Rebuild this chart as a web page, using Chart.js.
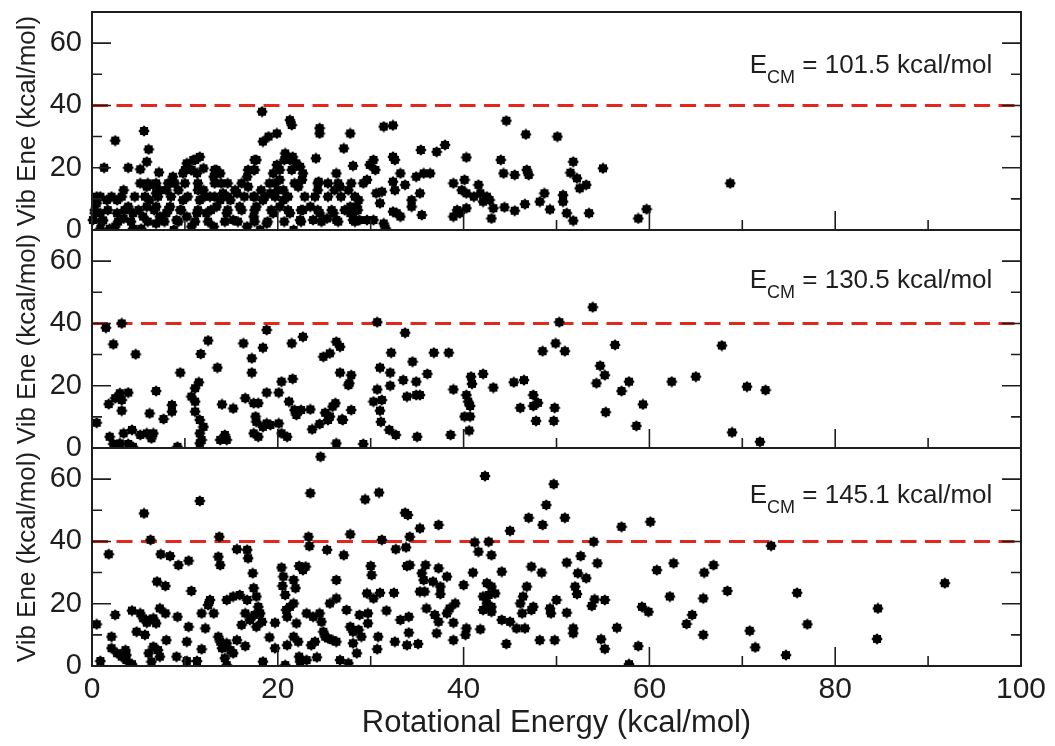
<!DOCTYPE html>
<html>
<head>
<meta charset="utf-8">
<title>Vibrational vs rotational energy</title>
<script src="https://cdn.jsdelivr.net/npm/chart.js@4/dist/chart.umd.min.js"></script>
<style>
  html, body { margin: 0; padding: 0; background: #fff; }
  #wrap { position: relative; width: 1055px; height: 746px; overflow: hidden; background: #fff; }
  #wrap canvas { position: absolute; left: 0; }
</style>
</head>
<body>
<div id="wrap">
  <canvas id="panel0" width="1055" height="278" style="top:-18px"></canvas>
  <canvas id="panel1" width="1055" height="278" style="top:200px"></canvas>
  <canvas id="panel2" width="1055" height="328" style="top:418px"></canvas>
</div>
<script>
// ---- data (rotational energy, vibrational energy) in kcal/mol ----
const ENERGIES = ['101.5', '130.5', '145.1'];
const THRESHOLD = 40;
const X_TICKS = [0, 20, 40, 60, 80, 100];
const Y_TICKS = [0, 20, 40, 60];

const POINTS_101 = [
  [0.1,3.2],[0.3,5.4],[0.9,5.4],[1.2,3.1],[0.9,0.4],[1.9,0.4],[2.5,1.1],[2.7,5.4],[3.4,3.7],[3.9,7.5],
  [4.4,5.4],[4.4,0.4],[5.3,0.4],[5.5,4.3],[5.9,7.5],[6.2,9.6],[6.9,7.5],[7.3,4.3],[6.9,2.1],[8.0,5.4],
  [8.4,7.5],[8.8,0.0],[9.1,3.2],[9.5,6.4],[9.8,9.6],[10.2,4.3],[10.7,1.1],[11.3,5.4],[11.6,9.6],[12.0,12.8],
  [12.7,10.7],[12.3,5.4],[13.1,1.1],[13.4,7.5],[13.8,9.6],[14.1,11.8],[14.5,5.4],[15.2,3.2],[14.9,9.6],[15.6,11.8],
  [15.9,7.5],[16.7,1.1],[17.4,4.3],[17.7,7.5],[18.1,0.0],[18.8,2.1],[18.4,9.6],[19.2,11.8],[19.5,5.4],[20.2,7.5],
  [20.6,9.6],[21.3,5.4],[21.7,0.0],[22.4,3.2],[22.7,6.4],[23.5,7.5],[23.8,3.2],[24.5,5.4],[25.3,3.7],[26.0,5.4],
  [26.3,3.2],[27.8,7.5],[28.1,5.4],[28.7,9.6],
  [6.0,15.0],[6.9,15.0],[8.2,15.0],[8.9,15.0],[10.0,15.0],[11.4,15.0],[13.2,15.0],[13.9,15.0],[14.6,15.0],[16.1,15.0],
  [19.1,15.0],[19.7,15.0],[21.8,15.0],[24.3,15.0],[25.4,15.0],[26.5,15.0],[27.9,15.0],
  [0.5,10.7],[2.1,10.7],[3.2,10.7],[4.6,10.7],[5.7,10.7],[7.1,10.7],[8.5,10.7],[10.3,10.7],[12.1,10.7],[13.2,10.7],
  [14.6,10.7],[16.4,10.7],[17.5,10.7],[18.6,10.7],[19.7,10.7],[21.1,10.7],[22.9,10.7],[24.0,10.7],[25.4,10.7],[26.8,10.7],
  [28.3,10.7],
  [0.3,6.4],[1.7,6.4],[3.5,6.4],[5.0,6.4],[6.7,6.4],[8.2,6.4],[9.6,6.4],[11.4,6.4],[12.8,6.4],[14.6,6.4],
  [16.1,6.4],[17.5,6.4],[19.3,6.4],[21.1,6.4],[22.5,6.4],[24.3,6.4],[25.8,6.4],[27.2,6.4],[28.6,6.4],
  [1.0,2.7],[2.8,2.7],[4.2,2.7],[6.0,2.7],[7.8,2.7],[9.3,2.7],[11.1,2.7],[12.5,2.7],[14.3,2.7],[15.7,2.7],
  [17.5,2.7],[18.9,2.7],[20.7,2.7],[22.5,2.7],[24.7,2.7],[26.5,2.7],[28.3,2.7],
  [9.3,12.8],[11.4,12.8],[15.4,12.8],[18.2,12.8],[20.0,12.8],[24.3,12.8],[26.1,12.8],
  [10.0,19.3],[10.7,19.3],[13.2,19.3],[16.8,19.3],[17.5,19.3],[20.2,19.3],[21.5,19.3],[11.1,22.5],[17.5,22.5],[20.7,22.5],
  [18.3,38.0],[5.6,31.8],[6.1,25.9],[5.9,21.9],[3.9,20.0],[5.2,19.5],[7.2,18.5],[1.3,20.0],[2.5,28.7],[18.4,28.4],
  [19.0,30.0],[19.9,31.0],[21.3,35.3],[21.5,33.7],[24.5,32.7],[24.5,31.0],[27.8,31.0],[27.1,26.2],[28.1,20.6],[24.1,23.0],
  [24.4,15.5],[26.3,18.2],[27.6,12.8],[20.8,24.6],[21.3,22.5],[21.6,23.5],[22.0,21.4],[22.4,20.3],[22.7,18.2],[22.6,16.1],
  [22.2,13.9],[19.9,20.9],[19.5,18.2],[20.2,16.1],[20.6,12.8],[17.7,22.5],[17.4,19.3],[16.7,17.1],[16.8,13.9],[17.4,10.7],
  [10.2,21.4],[10.9,22.5],[11.6,23.5],[10.7,19.3],[9.8,18.2],[11.3,18.2],[12.0,19.8],[13.4,19.3],[13.8,18.2],[13.1,17.1],
  [8.7,17.1],[8.4,15.0],[8.0,12.8],[5.2,15.0],[5.9,13.9],[6.6,14.5],[7.3,12.8],[6.9,11.8],[3.4,12.8],[2.7,9.6],
  [1.6,9.6],[0.9,10.7],[0.5,8.6],
  [31.4,33.2],[32.4,33.6],[35.4,25.7],[37.1,25.1],[38.0,27.3],[44.6,35.1],[46.7,30.7],[50.1,30.0],[40.3,23.3],[44.0,22.5],
  [44.3,18.2],[45.5,17.7],[46.8,19.3],[47.0,17.7],[51.8,21.9],[51.5,18.4],[52.2,16.6],[52.5,13.4],[53.2,14.5],[55.0,19.8],
  [48.7,11.8],[48.2,9.1],[49.3,6.6],[50.7,11.2],[50.7,9.1],[51.1,5.4],[51.8,3.0],[53.5,5.4],[58.8,3.7],[59.7,6.7],
  [46.6,8.3],[45.5,6.2],[44.4,7.3],[42.8,9.6],[43.2,7.0],[43.0,3.7],[42.5,10.7],[42.1,9.1],[41.6,14.5],[41.8,11.8],
  [41.1,10.7],[40.3,11.8],[40.1,16.1],[40.3,7.0],[39.8,12.8],[38.9,15.0],[39.3,6.4],[38.9,4.3],[39.6,5.4],[36.4,18.2],
  [35.7,18.2],[34.9,17.1],[35.3,11.8],[34.4,9.6],[34.4,7.5],[35.5,4.8],[33.2,18.2],[33.7,14.5],[32.6,12.8],[32.4,15.5],
  [32.6,22.5],[32.4,23.5],[30.3,22.5],[29.9,20.9],[30.5,19.3],[29.6,16.1],[29.2,15.0],[30.6,11.8],[31.2,12.3],[31.0,8.6],
  [26.7,13.9],[28.5,7.5],[27.8,5.4],[28.1,3.2],[28.8,3.2],[29.6,3.2],[30.3,3.2],[31.4,2.1],[31.6,0.5],[32.8,5.4],
  [33.2,4.3],[32.4,5.9],[68.7,15.0]
];

const POINTS_130 = [
  [1.5,38.6],[3.2,40.0],[2.3,33.3],[4.7,30.1],[0.5,8.1],[1.8,14.1],[2.5,16.0],[3.0,17.6],[3.2,15.4],[3.9,17.8],
  [3.2,12.0],[1.9,3.6],[2.3,1.3],[3.0,1.5],[3.4,4.7],[3.9,1.3],[4.3,5.8],[4.4,0.4],[5.2,4.2],[5.9,4.7],
  [6.4,3.1],[6.6,4.7],[6.2,11.1],[6.9,18.3],[7.7,9.3],[8.6,13.8],[8.6,11.7],[9.5,24.2],[9.2,0.4],[10.7,16.5],
  [11.1,19.2],[11.5,21.1],[11.1,14.9],[11.1,11.7],[11.6,9.0],[12.0,6.8],[11.6,4.7],[11.8,2.6],[11.6,1.5],[11.7,30.2],
  [12.5,34.5],[13.5,25.8],[14.0,14.0],[13.8,2.6],[14.5,2.6],[14.3,4.2],[15.2,12.7],[16.3,33.6],[16.5,16.0],[17.2,28.8],
  [17.2,24.2],[17.4,14.4],[17.9,14.4],[17.6,10.1],[17.7,8.4],[17.4,4.7],[17.9,3.6],[18.4,32.2],[18.8,37.9],[18.8,17.8],
  [18.4,6.8],[18.8,7.9],[19.2,7.4],[20.1,7.9],[20.1,17.8],[20.4,21.3],[20.4,4.7],[21.0,3.6],[21.2,14.9],[21.5,33.6],
  [21.6,22.2],[21.8,12.2],[22.0,10.6],[22.5,12.2],[22.7,35.7],[23.5,12.4],[23.7,6.0],[24.5,7.7],[24.9,29.3],[25.6,30.4],
  [26.3,34.1],[26.7,32.5],[25.1,11.3],[25.6,10.1],[25.9,13.3],[25.4,9.0],[26.9,9.2],[26.2,14.4],[26.3,1.5],[26.7,24.2],
  [27.7,20.8],[27.9,23.4],[27.9,12.2],[27.6,20.2],[27.0,9.0],
  [29.2,1.3],[30.7,40.4],[33.7,37.0],[32.2,30.6],[31.0,25.8],[32.1,24.2],[30.7,18.8],[32.1,20.0],[30.3,14.9],[31.2,15.4],
  [31.0,12.0],[31.1,8.4],[32.0,5.8],[32.7,4.2],[34.5,27.7],[33.5,21.8],[34.9,21.3],[33.9,16.5],[34.9,17.0],[35.3,17.0],
  [36.1,23.8],[35.0,3.6],[36.8,30.6],[38.4,30.6],[38.9,18.8],[38.6,4.2],[40.8,22.9],[40.9,20.6],[40.3,17.0],[40.5,14.9],
  [40.7,13.5],[40.1,10.1],[40.7,10.1],[40.6,5.6],[42.1,23.8],[43.2,19.4],[45.4,21.1],[46.5,21.8],[46.1,12.9],[47.5,17.0],
  [47.5,13.5],[48.0,14.5],[47.8,8.7],[49.7,8.7],[49.8,12.9],[48.5,31.1],[49.9,33.6],[50.9,31.1],[50.3,40.4],[53.9,45.2],
  [54.7,26.4],[55.2,23.4],[54.3,20.8],[56.3,33.1],[57.8,21.3],[57.0,18.3],[59.3,14.0],[55.3,11.5],[58.6,7.1],[62.4,21.3],
  [65.0,22.9],[67.8,32.9],[70.5,19.7],[72.5,18.6],[68.9,5.0],[71.9,2.0]
];

const POINTS_145 = [
  [24.6,67.2],[23.5,55.5],[11.6,53.0],[5.6,49.0],[6.3,40.5],[1.8,35.9],[0.5,13.4],[0.9,1.6],[2.5,16.4],[2.1,9.4],
  [2.1,5.7],[2.7,4.1],[3.2,3.0],[3.7,1.9],[4.3,0.6],[3.6,5.1],[3.7,3.5],
  [4.3,17.8],[5.2,16.9],[5.5,15.3],[4.8,11.0],[5.9,13.9],[6.2,14.8],[6.6,15.3],[6.9,13.7],[7.3,18.5],[7.9,16.9],
  [5.7,10.0],[6.1,4.1],[6.4,1.4],[6.6,6.2],[7.1,5.1],[7.3,3.0],[8.0,8.3],
  [7.0,27.1],[7.9,25.7],[7.4,35.9],[8.4,35.3],[9.3,32.4],[10.4,33.8],
  [9.2,15.8],[9.1,3.0],[10.2,7.8],[10.4,12.6],[10.7,24.1],[10.2,1.6],[11.3,1.6],
  [11.8,16.9],[11.8,5.4],[12.2,12.1],[12.5,19.6],[12.7,21.2],[13.1,16.9],[13.7,41.5],[13.6,35.1],[13.8,32.4],
  [13.6,9.4],[13.8,7.8],[14.0,5.7],[14.5,7.3],[14.9,5.1],[15.2,4.1],[14.3,2.5],[14.5,0.3],[15.6,8.3],[16.5,6.4],
  [14.5,21.2],[15.2,22.3],[15.9,22.8],[16.1,13.2],[16.5,16.9],[16.7,21.2],[17.0,14.8],[15.6,37.5],[16.7,37.3],[16.8,34.6],
  [17.3,29.8],[17.4,25.0],[17.7,22.3],[17.9,19.0],[18.1,16.9],[18.3,14.2],[17.7,12.6],[17.5,16.4],[18.4,1.4],[19.1,9.2],
  [19.7,13.9],[19.7,5.7],[20.4,31.6],[20.6,28.7],[20.5,25.7],[20.8,22.8],[20.9,18.0],[21.0,15.8],[21.3,19.0],[21.7,20.1],
  [21.0,6.7],[20.8,0.3],[21.7,27.6],[21.9,25.0],[22.3,32.1],[22.7,30.8],[23.0,31.9],[22.0,13.7],[22.2,7.8],[21.7,9.4],
  [22.3,3.0],[22.4,1.4],[23.1,1.9],[24.2,2.8],[23.1,16.9],[23.8,15.8],[23.6,6.7],[24.0,7.8],[24.5,16.9],[24.7,14.2],
  [24.9,11.0],[25.1,9.4],[25.4,8.9],[25.6,20.1],[26.3,21.7],[25.9,8.3],[26.3,7.8],[23.3,41.5],[23.4,38.5],[25.3,37.3],
  [26.3,27.6],[27.1,35.6],[27.8,42.3],[26.7,1.9],[27.6,0.9],[27.4,18.0],[27.8,12.6],[28.1,7.3],[28.5,4.1],[28.1,11.0],
  [29.4,53.5],[30.9,55.7],[33.7,49.2],[34.0,48.5],[35.3,44.2],[37.3,45.3],[31.2,40.5],[32.7,37.5],[33.8,38.1],[34.2,41.5],
  [42.3,61.0],[41.2,39.7],[41.6,36.7],[42.7,39.9],[43.0,35.6],[45.0,43.4],[47.0,47.6],[48.5,45.3],[48.9,51.7],[49.7,58.4],
  [50.9,47.6],[54.0,39.9],[57.0,44.7],[60.1,46.3],
  [30.0,32.1],[30.1,29.2],[29.6,23.3],[30.3,21.7],[31.0,23.5],[32.5,23.5],[31.7,17.8],[33.2,14.8],[34.1,15.8],[34.1,10.7],
  [33.9,6.7],[35.1,7.1],[32.6,7.8],[30.8,9.4],[30.7,5.4],[28.8,16.4],[29.7,16.9],[29.0,9.4],[28.7,11.6],[29.7,13.7],
  [33.9,32.1],[34.2,32.4],[35.5,29.8],[35.9,32.4],[35.7,27.6],[35.3,23.9],[35.8,23.9],[37.3,31.4],[36.7,27.1],[38.2,28.7],
  [37.5,25.5],[37.5,23.1],[36.0,18.5],[36.9,16.4],[37.3,14.2],[37.1,10.5],[38.2,16.9],[38.5,18.5],[39.1,20.1],[38.9,13.9],
  [38.9,8.3],[40.0,26.0],[40.3,12.1],[40.2,10.0],[41.8,11.8],
  [41.0,30.0],[42.5,26.6],[43.0,25.5],[42.1,22.3],[42.7,22.8],[43.4,23.3],[42.5,20.1],[43.0,19.0],[42.1,18.0],[43.0,17.4],
  [44.1,30.3],[44.1,14.8],[44.6,7.1],[45.0,14.2],[45.7,12.1],[46.1,20.1],[46.4,22.3],[46.8,25.5],[46.3,16.9],[46.6,12.1],
  [47.3,31.9],[47.3,18.0],[47.5,19.0],[48.4,30.0],[49.3,18.5],[49.4,16.9],[50.0,21.2],[49.8,8.3],[48.2,8.3],
  [51.1,33.2],[52.6,35.3],[52.3,29.8],[53.2,28.2],[52.0,25.5],[52.2,23.1],[51.1,17.1],[51.8,12.1],[51.8,10.5],[53.8,19.3],
  [54.1,21.4],[55.2,21.2],[54.4,33.0],[54.8,8.6],[55.2,5.5],[56.5,12.3],[58.8,6.4],[57.8,0.6],
  [59.2,19.0],[59.9,17.4],[60.8,30.8],[62.6,33.0],[62.2,22.3],[64.0,13.5],[64.6,16.4],
  [65.8,10.0],[65.8,21.7],[65.9,30.0],[66.9,32.4],[68.4,24.1],[70.8,11.3],[71.4,6.0],[73.1,38.6],[74.7,3.5],[75.9,23.5],
  [77.0,13.4],[84.6,18.5],[84.5,8.7],[91.8,26.6]
];

const PANEL_POINTS = [POINTS_101, POINTS_130, POINTS_145];

// ---- look ----
const INK = '#1e1e1e';
const DASH_RED = '#e5261c';
const FONT = '"Liberation Sans", Arial, Helvetica, sans-serif';
const LABEL_Y = [50.3, 51.5, 52.4];   // annotation baseline, in panel units

/**
 * Filled 8-lobed marker, like the grace "star" symbol
 */
const marker = (() => {
  const c = document.createElement('canvas');
  c.width = c.height = 12;
  const g = c.getContext('2d');
  g.fillStyle = '#000';
  g.beginPath();
  for (let i = 0; i < 16; i++) {
    const a = i * Math.PI / 8;
    const r = i % 2 === 0 ? 5.7 : 4.4;
    g.lineTo(6 + r * Math.cos(a), 6 + r * Math.sin(a));
  }
  g.closePath();
  g.fill();
  return c;
})();

/**
 * Frame, inward ticks, y title and the E_CM label of one panel
 */
const panelDecor = {
  id: 'panelDecor',
  afterDraw(chart, args, opts) {
    const { ctx, chartArea: a, scales: { x, y } } = chart;
    ctx.save();
    ctx.strokeStyle = INK;
    ctx.lineWidth = 1.6;
    ctx.beginPath();
    for (let v = 10; v < 100; v += 10) {
      const px = x.getPixelForValue(v);
      const len = v % 20 === 0 ? 19 : 10;
      ctx.moveTo(px, a.bottom);
      ctx.lineTo(px, a.bottom - len);
    }
    for (let v = 10; v < 70; v += 10) {
      const py = y.getPixelForValue(v);
      const len = v % 20 === 0 ? 19 : 10;
      ctx.moveTo(a.left, py);
      ctx.lineTo(a.left + len, py);
      ctx.moveTo(a.right, py);
      ctx.lineTo(a.right - len, py);
    }
    ctx.stroke();
    ctx.lineWidth = 2;
    ctx.strokeRect(a.left, a.top, a.right - a.left, a.bottom - a.top);

    // rotated y title
    ctx.fillStyle = INK;
    ctx.save();
    ctx.translate(35, (a.top + a.bottom) / 2);
    ctx.rotate(-Math.PI / 2);
    ctx.font = '26px ' + FONT;
    ctx.textAlign = 'center';
    ctx.textBaseline = 'alphabetic';
    ctx.fillText('Vib Ene (kcal/mol)', 0, 0);
    ctx.restore();

    // E_CM label
    const lx = x.getPixelForValue(70.8);
    const ly = y.getPixelForValue(opts.labelY);
    ctx.textAlign = 'left';
    ctx.textBaseline = 'alphabetic';
    ctx.font = '26px ' + FONT;
    ctx.fillText('E', lx, ly);
    const wE = ctx.measureText('E').width;
    ctx.font = '18px ' + FONT;
    ctx.fillText('CM', lx + wE, ly + 10);
    const wCM = ctx.measureText('CM').width;
    ctx.font = '26px ' + FONT;
    ctx.fillText(' = ' + opts.energy + ' kcal/mol', lx + wE + wCM, ly);
    ctx.restore();
  }
};

/**
 * Build one of the three stacked panels
 */
function makePanel(index) {
  const isBottom = index === PANEL_POINTS.length - 1;
  const canvas = document.getElementById('panel' + index);
  const points = PANEL_POINTS[index].map(p => ({ x: p[0], y: p[1] }));

  new Chart(canvas, {
    type: 'scatter',
    data: {
      datasets: [{
        data: points,
        pointStyle: marker,
        pointRadius: 5,
        clip: { left: 6, right: 6, top: 6, bottom: 0 }
      }, {
        type: 'line',
        data: [{ x: 0, y: THRESHOLD }, { x: 100, y: THRESHOLD }],
        borderColor: DASH_RED,
        borderWidth: 3,
        borderDash: [16, 8.5],
        pointRadius: 0,
        fill: false
      }]
    },
    plugins: [panelDecor],
    options: {
      responsive: false,
      animation: false,
      devicePixelRatio: 1,
      events: [],
      layout: { padding: { top: 30, bottom: isBottom ? 0 : 30, left: 0, right: 34 } },
      plugins: {
        legend: { display: false },
        tooltip: { enabled: false },
        panelDecor: { energy: ENERGIES[index], labelY: LABEL_Y[index] }
      },
      scales: {
        x: {
          type: 'linear',
          display: isBottom,
          min: 0,
          max: 100,
          afterBuildTicks: scale => { scale.ticks = X_TICKS.map(v => ({ value: v })); },
          afterFit: scale => { if (isBottom) scale.height = 80; },
          grid: { display: false, drawTicks: false },
          border: { display: false },
          ticks: { color: INK, font: { size: 30, family: FONT }, padding: 6, maxRotation: 0 },
          title: {
            display: true,
            text: 'Rotational Energy (kcal/mol)',
            color: INK,
            font: { size: 31, family: FONT },
            padding: { top: 0, bottom: 4 }
          }
        },
        y: {
          type: 'linear',
          min: 0,
          max: 70,
          afterBuildTicks: scale => { scale.ticks = Y_TICKS.map(v => ({ value: v })); },
          afterFit: scale => { scale.width = 92; },
          grid: { display: false, drawTicks: false },
          border: { display: false },
          ticks: { color: INK, font: { size: 29, family: FONT }, padding: 10 }
        }
      }
    }
  });
}

PANEL_POINTS.forEach((_, i) => makePanel(i));
</script>
</body>
</html>
